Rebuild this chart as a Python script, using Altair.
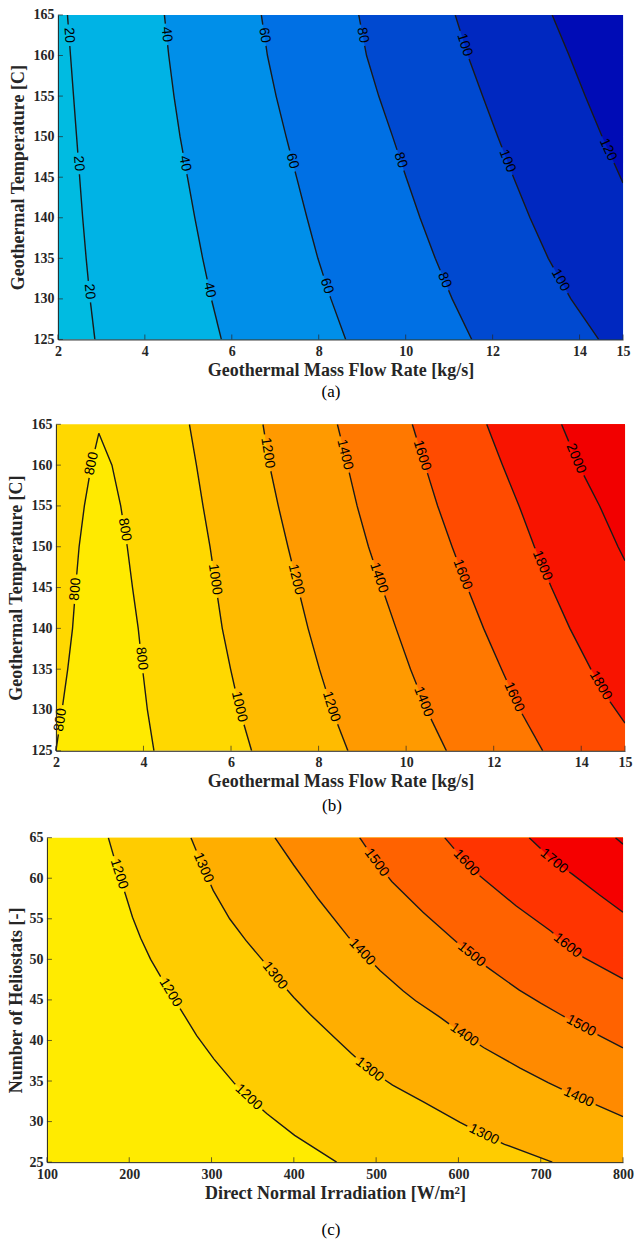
import math
import numpy as np
import pandas as pd
import altair as alt

SERIF = "Liberation Serif"
SANS = "Liberation Sans"
AXIS_COLOR = "#262626"
LINE_COLOR = "#1a1a1a"
LABEL_FS = 14

# ---------------- Panel (a): geothermal mass flow vs temperature ----------------
A_X_DOMAIN = [2, 15]
A_Y_DOMAIN = [125, 165]
A_X_TICKS = [2, 4, 6, 8, 10, 12, 14, 15]
A_Y_TICKS = [125, 130, 135, 140, 145, 150, 155, 160, 165]
A_BG = "#00BBE1"
A_T = [165, 160, 155, 150, 145, 140, 135, 130, 125]
A_M20 = [2.22, 2.29, 2.36, 2.43, 2.50, 2.57, 2.65, 2.74, 2.85]
A_M40 = [4.45, 4.55, 4.67, 4.81, 4.98, 5.15, 5.33, 5.53, 5.76]
A_M60 = [6.68, 6.82, 7.02, 7.25, 7.49, 7.73, 7.98, 8.28, 8.62]
A_M80 = [8.92, 9.10, 9.38, 9.70, 10.01, 10.33, 10.68, 11.07, 11.52]
A_M100 = [11.14, 11.43, 11.77, 12.12, 12.48, 12.86, 13.28, 13.80, 14.44]
A_T120 = [165, 160, 155, 150, 145, 144.3]
A_M120 = [13.37, 13.76, 14.13, 14.52, 14.94, 15.0]
A_LINES = [
    (20, A_M20, A_T, "#00B3E5", [162.5, 146.7, 130.9]),
    (40, A_M40, A_T, "#008FE9", [162.6, 146.7, 131.1]),
    (60, A_M60, A_T, "#0070E4", [162.5, 147.0, 131.6]),
    (80, A_M80, A_T, "#0049D0", [162.5, 147.1, 132.3]),
    (100, A_M100, A_T, "#0028C0", [161.3, 147.0, 132.3]),
    (120, A_M120, A_T120, "#000CB6", [148.4]),
]

# ---------------- Panel (b) ----------------
B_X_DOMAIN = [2, 15]
B_Y_DOMAIN = [125, 165]
B_BG = "#FFD800"
B_TENT_COLOR = "#FFEA00"
B_T = [165, 160, 155, 150, 145, 140, 135, 130, 125]
B_TENT_T = [163.9, 160, 155, 150, 145, 140, 135, 130, 125]
B_TENT_LEFT = [2.98, 2.81, 2.65, 2.53, 2.45, 2.38, 2.27, 2.14, 2.0]
B_TENT_RIGHT = [2.98, 3.28, 3.48, 3.63, 3.75, 3.88, 3.98, 4.09, 4.24]
B_TENT_LEFT_LABELS = [160.2, 144.8, 128.8]
B_TENT_RIGHT_LABELS = [152.1, 136.3]
B_M1000 = [5.05, 5.21, 5.36, 5.52, 5.66, 5.80, 5.99, 6.20, 6.47]
B_M1200 = [6.73, 6.88, 7.08, 7.30, 7.53, 7.76, 8.02, 8.31, 8.67]
B_M1400 = [8.43, 8.66, 8.88, 9.14, 9.45, 9.77, 10.10, 10.47, 10.92]
B_M1600 = [10.14, 10.43, 10.72, 11.05, 11.40, 11.77, 12.18, 12.60, 13.12]
B_T1800 = [165, 160, 155, 150, 145, 140, 135, 131, 128.4]
B_M1800 = [11.84, 12.20, 12.58, 12.93, 13.32, 13.74, 14.22, 14.66, 15.0]
B_T2000 = [165, 160, 155, 150, 148.3]
B_M2000 = [13.55, 13.94, 14.42, 14.84, 15.0]
B_LINES = [
    (1000, B_M1000, B_T, "#FFBB00", [146.0, 130.4]),
    (1200, B_M1200, B_T, "#FF9A00", [161.5, 146.0, 130.4]),
    (1400, B_M1400, B_T, "#FF7800", [161.3, 146.2, 131.0]),
    (1600, B_M1600, B_T, "#FF4B00", [161.2, 146.6, 131.6]),
    (1800, B_M1800, B_T1800, "#F81400", [147.7, 133.0]),
    (2000, B_M2000, B_T2000, "#F20000", [160.8]),
]

# ---------------- Panel (c) ----------------
C_X_DOMAIN = [100, 800]
C_Y_DOMAIN = [25, 65]
C_X_TICKS = [100, 200, 300, 400, 500, 600, 700, 800]
C_Y_TICKS = [25, 30, 35, 40, 45, 50, 55, 60, 65]
C_BG = "#FFEB00"
C_X1200 = [174.6, 186, 196, 204, 214, 226, 238, 250, 262, 282, 303, 327, 345, 367, 401, 452]
C_Y1200 = [65, 61.0, 57.8, 55.2, 52.6, 50.0, 47.9, 45.9, 43.9, 40.6, 37.7, 34.8, 33.0, 31.0, 28.3, 25]
C_X1300 = [275, 290, 302, 322, 342, 362, 380, 400, 420, 450, 470, 492, 520, 558, 602, 631, 656, 714]
C_Y1300 = [65, 61.3, 58.5, 55.0, 52.3, 49.9, 47.6, 45.3, 43.2, 40.3, 38.4, 36.4, 34.5, 32.4, 29.9, 28.4, 27.2, 25]
C_X1400 = [377, 400, 430, 466, 483, 505, 533, 548, 577, 607, 631, 675, 709, 746, 773, 800]
C_Y1400 = [65, 61.6, 57.4, 52.8, 50.9, 48.6, 46.1, 44.9, 42.9, 40.7, 39.1, 36.6, 34.8, 33.0, 31.8, 30.6]
C_X1500 = [480, 500, 519, 557, 597, 616, 634, 674, 700, 724, 749, 773, 800]
C_Y1500 = [65, 62.0, 59.6, 55.8, 52.2, 50.6, 49.1, 46.2, 44.6, 43.2, 41.8, 40.5, 39.1]
C_X1600 = [583.3, 609.4, 623.5, 669.9, 712.2, 732.4, 752.5, 800]
C_Y1600 = [65, 61.9, 60.5, 56.6, 53.5, 51.7, 50.2, 47.6]
C_X1700 = [686, 716, 738.4, 770.7, 800]
C_Y1700 = [65, 62.1, 60.5, 58.0, 55.8]
C_X1800 = [790.8, 800]
C_Y1800 = [65, 64.2]
C_LINES = [
    (1200, C_X1200, C_Y1200, "#FFCC00", [187.5, 250, 345]),
    (1300, C_X1300, C_Y1300, "#FFAE00", [290, 377, 492, 631]),
    (1400, C_X1400, C_Y1400, "#FF8A00", [483, 607, 746]),
    (1500, C_X1500, C_Y1500, "#FF6200", [500.6, 616, 749]),
    (1600, C_X1600, C_Y1600, "#FF3400", [609.4, 732.4]),
    (1700, C_X1700, C_Y1700, "#F50000", [716.2]),
    (1800, C_X1800, C_Y1800, "#EE0000", []),
]


def build_line(xs, ys, label_at, by, rng, H, xdom, ydom, level, prefix):
    """Split a contour line into segments with gaps where its labels sit."""
    xs = np.asarray(xs, float)
    ys = np.asarray(ys, float)
    px = (xs - xdom[0]) / (xdom[1] - xdom[0]) * (rng[1] - rng[0])
    py = (ydom[1] - ys) / (ydom[1] - ydom[0]) * H
    S = np.concatenate([[0.0], np.cumsum(np.hypot(np.diff(px), np.diff(py)))])
    coord = ys if by == "y" else xs
    order = np.argsort(coord)

    def s_of(v):
        return float(np.interp(v, coord[order], S[order]))

    def at(s):
        return (float(np.interp(s, S, xs)), float(np.interp(s, S, ys)),
                float(np.interp(s, S, px)), float(np.interp(s, S, py)))

    txt = str(level)
    g = len(txt) * 0.56 * LABEL_FS / 2 + 3
    gaps, labels = [], []
    for v in label_at:
        sl = s_of(v)
        x0, y0, _, _ = at(sl)
        _, _, pa, qa = at(max(sl - 4, 0))
        _, _, pb, qb = at(min(sl + 4, S[-1]))
        ang = math.degrees(math.atan2(qb - qa, pb - pa))
        if ang > 90:
            ang -= 180
        if ang <= -90:
            ang += 180
        labels.append(dict(x=x0, y=y0, text=txt, angle=ang % 360))
        gaps.append((sl - g, sl + g))
    gaps.sort()
    keep, cur = [], 0.0
    for a, b in gaps:
        if a > cur:
            keep.append((cur, a))
        cur = max(cur, b)
    if cur < S[-1]:
        keep.append((cur, float(S[-1])))
    rows = []
    for k, (a, b) in enumerate(keep):
        ss = [a] + [s for s in S if a < s < b] + [b]
        for i, s in enumerate(ss):
            x, y, _, _ = at(s)
            rows.append(dict(x=x, y=y, seg=f"{prefix}_{k}", ord=i))
    return rows, labels


def make_axes(xdom, ydom, xrange, xticks, yticks, xtitle, ytitle, ytitle_pad):
    common = dict(grid=False, ticks=False, domain=True, domainColor=AXIS_COLOR,
                  domainWidth=1, labelFont=SERIF, labelFontWeight="bold",
                  labelFontSize=14, labelColor=AXIS_COLOR, titleFont=SERIF,
                  titleFontWeight="bold", titleFontSize=18, titleColor=AXIS_COLOR,
                  labelFlush=False, labelOverlap=False, format="d", zindex=1)
    X = alt.X("x:Q", scale=alt.Scale(domain=xdom, range=xrange, nice=False, zero=False),
              axis=alt.Axis(values=xticks, title=xtitle, labelPadding=5,
                            titlePadding=3, **common))
    Y = alt.Y("y:Q", scale=alt.Scale(domain=ydom, nice=False, zero=False),
              axis=alt.Axis(values=yticks, title=ytitle, labelPadding=4,
                            titlePadding=ytitle_pad, offset=-xrange[0], **common))
    return X, Y


def make_panel(xdom, ydom, xrange, xticks, yticks, W, H, bg, fills, line_rows,
               label_rows, xtitle, ytitle, ytitle_pad, caption, cap_offset):
    X, Y = make_axes(xdom, ydom, xrange, xticks, yticks, xtitle, ytitle, ytitle_pad)
    bg_df = pd.DataFrame({"x": [xdom[0]], "x2": [xdom[1]], "y": [ydom[0]], "y2": [ydom[1]]})
    layers = [alt.Chart(bg_df).mark_rect(color=bg).encode(
        x=X, x2=alt.X2("x2"), y=Y, y2=alt.Y2("y2"))]
    for df, color, kind in fills:
        if kind == "h":
            layers.append(alt.Chart(df).mark_area(orient="horizontal", color=color)
                          .encode(y=Y, x=X, x2=alt.X2("x2")))
        else:
            layers.append(alt.Chart(df).mark_area(orient="vertical", color=color)
                          .encode(x=X, y=Y, y2=alt.Y2("y2")))
    layers.append(alt.Chart(pd.DataFrame(line_rows)).mark_line(
        color=LINE_COLOR, strokeWidth=1.4, clip=True).encode(
        x=X, y=Y, detail="seg:N", order=alt.Order("ord:Q")))
    layers.append(alt.Chart(pd.DataFrame(label_rows)).mark_text(
        font=SANS, fontSize=LABEL_FS, color="black", align="center", baseline="middle").encode(
        x=X, y=Y, text="text:N", angle=alt.Angle("angle:Q", scale=None)))
    xt = pd.DataFrame({"x": xticks, "y": [ydom[0]] * len(xticks)})
    yt = pd.DataFrame({"x": [xdom[0]] * len(yticks), "y": yticks})
    layers.append(alt.Chart(xt).mark_tick(orient="vertical", size=5, thickness=1,
                                          yOffset=-2.5, color=AXIS_COLOR).encode(x=X, y=Y))
    layers.append(alt.Chart(yt).mark_tick(orient="horizontal", size=5, thickness=1,
                                          xOffset=2.5, color=AXIS_COLOR).encode(x=X, y=Y))
    return alt.layer(*layers).properties(
        width=W, height=H,
        title=alt.TitleParams(text=caption, orient="bottom", font=SERIF, fontSize=17,
                              fontWeight="normal", color="black", offset=cap_offset,
                              anchor="middle", dx=-4))


# ---- build panel (a)
W_A, H_A, R_A = 577, 325, [11, 577]
rows_a, labs_a, fills_a = [], [], []
for lvl, xs, ys, col, lab in A_LINES:
    r, l = build_line(xs, ys, lab, "y", R_A, H_A, A_X_DOMAIN, A_Y_DOMAIN, lvl, f"a{lvl}")
    rows_a += r
    labs_a += l
    fills_a.append((pd.DataFrame({"x": xs, "y": ys, "x2": [A_X_DOMAIN[1]] * len(xs)}), col, "h"))
panel_a = make_panel(A_X_DOMAIN, A_Y_DOMAIN, R_A, A_X_TICKS, A_Y_TICKS, W_A, H_A, A_BG, fills_a,
                     rows_a, labs_a, "Geothermal Mass Flow Rate [kg/s]",
                     "Geothermal Temperature [C]", 5, "(a)", 5)

# ---- build panel (b)
W_B, H_B, R_B = 579, 327, [9, 579]
rows_b, labs_b, fills_b = [], [], []
fills_b.append((pd.DataFrame({"x": B_TENT_LEFT, "x2": B_TENT_RIGHT, "y": B_TENT_T}),
                B_TENT_COLOR, "h"))
for side, xs, lab in (("l", B_TENT_LEFT, B_TENT_LEFT_LABELS), ("r", B_TENT_RIGHT, B_TENT_RIGHT_LABELS)):
    r, l = build_line(xs, B_TENT_T, lab, "y", R_B, H_B, B_X_DOMAIN, B_Y_DOMAIN, 800, f"b800{side}")
    rows_b += r
    labs_b += l
for lvl, xs, ys, col, lab in B_LINES:
    r, l = build_line(xs, ys, lab, "y", R_B, H_B, B_X_DOMAIN, B_Y_DOMAIN, lvl, f"b{lvl}")
    rows_b += r
    labs_b += l
    fills_b.append((pd.DataFrame({"x": xs, "y": ys, "x2": [B_X_DOMAIN[1]] * len(xs)}), col, "h"))
panel_b = make_panel(B_X_DOMAIN, B_Y_DOMAIN, R_B, A_X_TICKS, A_Y_TICKS, W_B, H_B, B_BG, fills_b,
                     rows_b, labs_b, "Geothermal Mass Flow Rate [kg/s]",
                     "Geothermal Temperature [C]", 5, "(b)", 7)

# ---- build panel (c)
W_C, H_C, R_C = 577, 325, [0, 577]
rows_c, labs_c, fills_c = [], [], []
for lvl, xs, ys, col, lab in C_LINES:
    r, l = build_line(xs, ys, lab, "x", R_C, H_C, C_X_DOMAIN, C_Y_DOMAIN, lvl, f"c{lvl}")
    rows_c += r
    labs_c += l
    fx, fy = list(xs), list(ys)
    if fy[-1] <= C_Y_DOMAIN[0] and fx[-1] < C_X_DOMAIN[1]:
        fx.append(C_X_DOMAIN[1])
        fy.append(C_Y_DOMAIN[0])
    fills_c.append((pd.DataFrame({"x": fx, "y": fy, "y2": [C_Y_DOMAIN[1]] * len(fx)}), col, "v"))
panel_c = make_panel(C_X_DOMAIN, C_Y_DOMAIN, R_C, C_X_TICKS, C_Y_TICKS, W_C, H_C, C_BG, fills_c,
                     rows_c, labs_c, "Direct Normal Irradiation [W/m²]",
                     "Number of Heliostats [-]", 3, "(c)", 20)

chart = alt.concat(panel_a, panel_b, panel_c, columns=1, spacing=15, align="none").properties(
    padding={"left": 7, "top": 6, "right": 0, "bottom": 0}
).configure_view(stroke="transparent")

chart.save("out.html", embed_options={"renderer": "svg", "actions": False})
